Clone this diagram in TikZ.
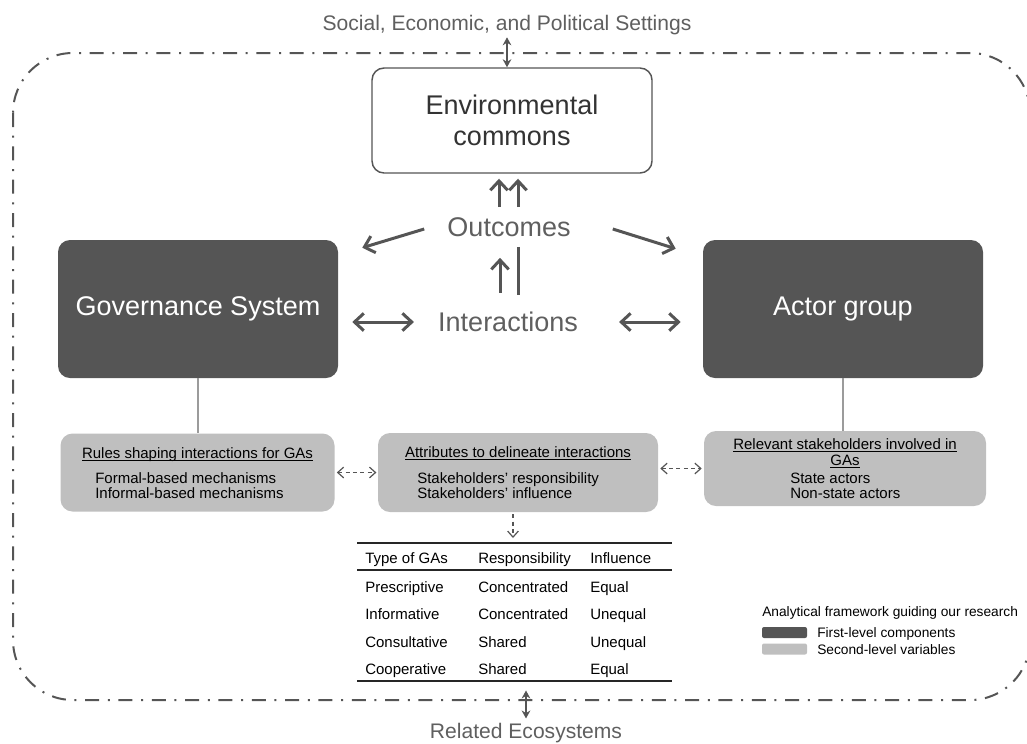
\documentclass[tikz,border=0pt]{standalone}
\usepackage{fontspec}
\setmainfont{Liberation Sans}
\usetikzlibrary{arrows.meta,calc}

\definecolor{darkbox}{HTML}{555555}
\definecolor{lightbox}{HTML}{BFBFBF}
\definecolor{linegray}{HTML}{555555}
\definecolor{labelgray}{HTML}{5F5F5F}
\definecolor{connectgray}{HTML}{9B9B9B}

\newcommand\biglabel{\fontsize{20.25}{23.5}\selectfont}
\newcommand\ctxlabel{\fontsize{15.8}{19}\selectfont}
\newcommand\boxlabel{\fontsize{11.25}{13}\selectfont}
\newcommand\keylabel{\fontsize{10.3}{12}\selectfont}
\newsavebox\ulbox
\newcommand\ulabel[1]{\sbox\ulbox{#1}\rlap{\rule[-2.3pt]{\wd\ulbox}{0.6pt}}\usebox\ulbox}

\begin{document}
\begin{tikzpicture}[x=0.75pt, y=-0.75pt,
  framedash/.style={draw=linegray, line width=1.5pt, rounded corners=45pt, dash pattern=on 10.5pt off 6.5pt on 1.5pt off 6.5pt},
  context/.style={text=labelgray, font=\ctxlabel, inner sep=0pt, anchor=base},
  ctxarrow/.style={draw=linegray, line width=1.1pt, >={Stealth[length=6pt,width=6.5pt]}, <->},
  envbox/.style={rectangle, draw=linegray, line width=1.1pt, fill=white, rounded corners=9pt, minimum width=210pt, minimum height=78.75pt, align=center, text=black!80, font=\biglabel},
  firstlevel/.style={rectangle, fill=darkbox, rounded corners=9pt, minimum width=210pt, minimum height=103.5pt, text=white, font=\biglabel},
  secondlevel/.style={rectangle, fill=lightbox, rounded corners=9pt},
  keyword/.style={text=labelgray, font=\biglabel, inner sep=0pt},
  bigline/.style={draw=linegray, line width=2.25pt},
  bigarrow/.style={bigline, >={Straight Barb[length=7pt,width=13pt]}, ->},
  bigboth/.style={bigarrow, <->},
  tie/.style={draw=connectgray, line width=0.8pt},
  dasharrow/.style={draw=linegray, line width=0.9pt, dash pattern=on 3pt off 2.5pt, >={Straight Barb[length=4.5pt,width=8pt]}, ->},
  dashboth/.style={dasharrow, <->},
  boxtext/.style={font=\boxlabel, inner sep=0pt, anchor=base west},
  boxtitle/.style={font=\boxlabel, inner sep=0pt, anchor=base},
  cell/.style={font=\boxlabel, inner sep=0pt, anchor=base west},
  tblrule/.style={draw=black!85, line width=1.4pt},
  midrule/.style={draw=black!85, line width=0.9pt},
  swatch/.style={rectangle, rounded corners=1.5pt, minimum width=33.75pt, minimum height=8.25pt, inner sep=0pt},
  keytext/.style={font=\keylabel, inner sep=0pt, anchor=base west}]
\useasboundingbox (0,0) rectangle (1027,743);

% outer frame and settings
\draw[framedash] (13,53) rectangle (1030,700);
\node[context] (soc) at (507,30) {Social, Economic, and Political Settings};
\node[context] (eco) at (526,738) {Related Ecosystems};

% first level
\node[envbox] (env) at (512,120.5) {Environmental\\commons};
\node[firstlevel] (gov) at (198,309) {Governance System};
\node[firstlevel] (act) at (843,309) {Actor group};
\node[keyword] (outc) at (509,227) {Outcomes};
\node[keyword] (inter) at (508,322) {Interactions};

\draw[ctxarrow, shorten <=2pt] (soc.south) -- (soc.south |- env.north);
\draw[ctxarrow] ([yshift=3pt]eco.north) -- ++(0,-28);

\draw[bigarrow] ($(outc.north -| env.south)+(-13,-10)$) -- ($(env.south)+(-13,5)$);
\draw[bigarrow] ($(outc.north -| env.south)+(6,-10)$) -- ($(env.south)+(6,5)$);
\draw[bigarrow] ($(outc.west)+(-23,2)$) -- ($(gov.north east)+(24,8)$);
\draw[bigarrow] ($(outc.east)+(42,2)$) -- ($(act.north west)+(-27,9)$);
\draw[bigarrow] ($(inter.north)+(-8,-19)$) -- ($(outc.south)+(-9,21)$);
\draw[bigline] ($(outc.south)+(9,10)$) -- ($(inter.north)+(10,-17)$);
\draw[bigboth] ($(inter.west)+(-24,0)$) -- ($(gov.east |- inter.west)+(14,0)$);
\draw[bigboth] ($(inter.east)+(41,0)$) -- ($(act.west |- inter.east)+(-22,0)$);

% second level
\node[secondlevel, minimum width=205.5pt, minimum height=58.5pt] (rules) at (197.5,472.5) {};
\node[secondlevel, minimum width=210pt, minimum height=59.25pt] (attr) at (518,472.5) {};
\node[secondlevel, minimum width=211.5pt, minimum height=56.25pt] (rel) at (845,468.5) {};

\node[boxtitle] (rulesT) at (197.5,458) {\ulabel{Rules shaping interactions for GAs}};
\node[boxtext] (rules1) at (95,483) {Formal-based mechanisms};
\node[boxtext] (rules2) at (95,498.5) {Informal-based mechanisms};

\node[boxtitle] (attrT) at (518,457) {\ulabel{Attributes to delineate interactions}};
\node[boxtext] (attr1) at (417,483) {Stakeholders' responsibility};
\node[boxtext] (attr2) at (417,498.5) {Stakeholders' influence};

\node[boxtitle] (relT) at (845,449) {\ulabel{Relevant stakeholders involved in}};
\node[boxtitle] (relT2) at (845,465) {\ulabel{GAs}};
\node[boxtext] (rel1) at (790,483) {State actors};
\node[boxtext] (rel2) at (790,498.5) {Non-state actors};

\draw[tie] (gov.south) -- (gov.south |- rules.north);
\draw[tie] (act.south) -- (act.south |- rel.north);
\draw[dashboth, shorten <=1.5pt, shorten >=1pt] (rules.east) -- (rules.east -| attr.west);
\draw[dashboth, shorten <=1.5pt, shorten >=1.5pt] (rel.west -| attr.east) -- (rel.west);

% table of GA types
\coordinate (tbltop) at (513,543);
\draw[dasharrow, shorten <=1.5pt] (attr.south -| tbltop) -- ([yshift=3.75pt]tbltop);
\draw[tblrule] (357,543) -- (672,543);
\draw[midrule] (357,570) -- (672,570);
\draw[tblrule] (357,681) -- (672,681);
\node[cell] (h1) at (365,563) {Type of GAs};
\node[cell] (h2) at (478,563) {Responsibility};
\node[cell] (h3) at (590,563) {Influence};
\foreach \typ/\resp/\infl [count=\i] in {Prescriptive/Concentrated/Equal, Informative/Concentrated/Unequal, Consultative/Shared/Unequal, Cooperative/Shared/Equal}{
  \node[cell] (typ\i) at (365,565.1+27.4*\i) {\typ};
  \node[cell] (resp\i) at (478,565.1+27.4*\i) {\resp};
  \node[cell] (infl\i) at (590,565.1+27.4*\i) {\infl};
}

% legend
\node[keytext] (keyT) at (762,616) {Analytical framework guiding our research};
\node[swatch, fill=darkbox] (keyA) at (784.5,632.5) {};
\node[swatch, fill=lightbox] (keyB) at (784.5,649) {};
\node[keytext] (keyAl) at (817,637) {First-level components};
\node[keytext] (keyBl) at (817,654) {Second-level variables};
\end{tikzpicture}
\end{document}
